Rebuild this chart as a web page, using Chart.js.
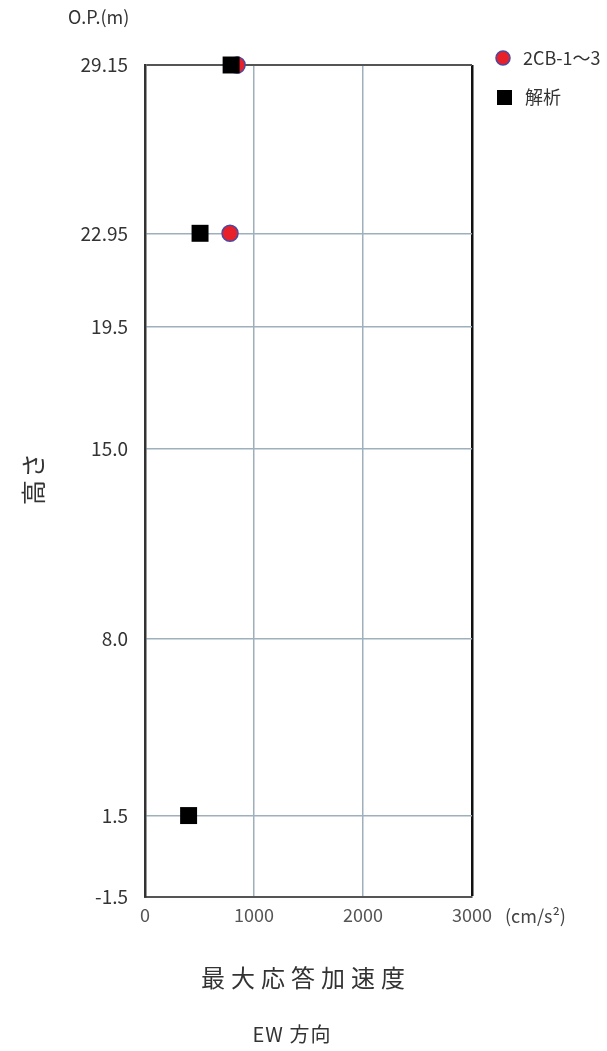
<!DOCTYPE html>
<html>
<head>
<meta charset="utf-8">
<script src="https://cdn.jsdelivr.net/npm/chart.js@4"></script>
<style>
  body { margin: 0; background: #fff; }
</style>
</head>
<body>
<canvas id="accelChart" width="607" height="1051"></canvas>
<script>
// heights (O.P. m) used as y ticks
const heightTicks = [-1.5, 1.5, 8.0, 15.0, 19.5, 22.95, 29.15];
const heightLabels = ['-1.5', '1.5', '8.0', '15.0', '19.5', '22.95', '29.15'];

// observed max acceleration (cm/s2)
const obsHeights = [29.15, 22.95];
const obsAccel = [845, 780];

// analysis result
const anaHeights = [29.15, 22.95, 1.5];
const anaAccel = [790, 505, 400];

const FONT = '"Noto Sans CJK JP", "Noto Sans", sans-serif';

function toPoints(xs, ys) {
  return xs.map((x, i) => ({ x: x, y: ys[i] }));
}

const extraText = {
  id: 'extraText',
  afterDraw(chart) {
    const ctx = chart.ctx;
    ctx.save();
    ctx.fillStyle = '#333';
    ctx.textBaseline = 'middle';

    ctx.font = '18px ' + FONT;
    ctx.textAlign = 'left';
    ctx.fillText('O.P.(m)', 68, 17);
    ctx.fillStyle = '#444';
    ctx.fillText('(cm/s²)', 505, 916);
    ctx.fillStyle = '#333';

    // y axis title, rotated
    ctx.save();
    ctx.translate(33, 478);
    ctx.rotate(-Math.PI / 2);
    ctx.textAlign = 'center';
    ctx.font = '25px ' + FONT;
    ctx.letterSpacing = '2px';
    ctx.fillText('高さ', 0, 0);
    ctx.letterSpacing = '0px';
    ctx.restore();

    ctx.textAlign = 'center';
    ctx.font = '24px ' + FONT;
    ctx.letterSpacing = '6px';
    ctx.fillText('最大応答加速度', 306, 978);
    ctx.letterSpacing = '1px';
    ctx.font = '20px ' + FONT;
    ctx.fillText('EW 方向', 292, 1034);
    ctx.letterSpacing = '0px';

    // legend
    const sets = chart.data.datasets;
    ctx.textAlign = 'left';
    ctx.font = '18px ' + FONT;
    ctx.beginPath();
    ctx.arc(503, 58, 7, 0, Math.PI * 2);
    ctx.fillStyle = sets[0].backgroundColor;
    ctx.fill();
    ctx.lineWidth = 1.5;
    ctx.strokeStyle = sets[0].borderColor;
    ctx.stroke();
    ctx.fillStyle = '#333';
    ctx.fillText(sets[0].label, 523, 58);

    ctx.fillStyle = sets[1].backgroundColor;
    ctx.fillRect(497, 90, 15, 15);
    ctx.fillStyle = '#333';
    ctx.fillText(sets[1].label, 525, 97);
    ctx.restore();
  }
};

new Chart(document.getElementById('accelChart'), {
  type: 'scatter',
  data: {
    datasets: [
      {
        label: '2CB-1～3',
        data: toPoints(obsAccel, obsHeights),
        backgroundColor: '#e8202a',
        borderColor: '#4a4aa0',
        borderWidth: 1.5,
        pointRadius: 8,
        pointHoverRadius: 8,
        order: 2,
        clip: false,
      },
      {
        label: '解析',
        data: toPoints(anaAccel, anaHeights),
        backgroundColor: '#000',
        borderColor: '#000',
        borderWidth: 0,
        pointStyle: 'rect',
        pointRadius: 12,
        pointHoverRadius: 12,
        order: 1,
        clip: false,
      },
    ],
  },
  options: {
    responsive: false,
    animation: false,
    devicePixelRatio: 1,
    layout: {
      padding: { left: 0, top: 65, right: 135, bottom: 114 },
    },
    plugins: {
      legend: { display: false },
      tooltip: { enabled: false },
    },
    scales: {
      x: {
        type: 'linear',
        min: 0,
        max: 3000,
        ticks: {
          stepSize: 1000,
          color: '#555',
          font: { family: FONT, size: 18 },
          padding: 7,
          maxRotation: 0,
          callback: (v) => String(v),
        },
        grid: {
          drawTicks: false,
          color: (c) => (c.tick && c.tick.value === 3000 ? '#111' : '#9fb0bd'),
          lineWidth: (c) => (c.tick && c.tick.value === 3000 ? 2.5 : 1.5),
        },
        border: { color: '#555', width: 2 },
        afterFit(scale) { scale.height = 40; },
      },
      y: {
        type: 'linear',
        min: -1.5,
        max: 29.15,
        afterBuildTicks(scale) {
          scale.ticks = heightTicks.map((v) => ({ value: v }));
        },
        ticks: {
          color: '#333',
          font: { family: FONT, size: 19 },
          padding: 17,
          callback: (v) => heightLabels[heightTicks.indexOf(v)],
        },
        grid: {
          drawTicks: false,
          color: (c) => (c.tick && c.tick.value === 29.15 ? '#555' : '#9fb0bd'),
          lineWidth: (c) => (c.tick && c.tick.value === 29.15 ? 2 : 1.5),
        },
        border: { color: '#333', width: 2.5 },
        afterFit(scale) { scale.width = 145; },
      },
    },
  },
  plugins: [extraText],
});
</script>
</body>
</html>
